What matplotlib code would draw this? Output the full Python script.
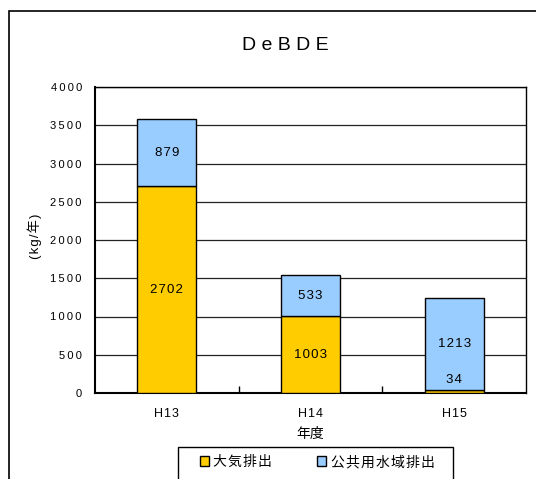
import matplotlib
matplotlib.use("Agg")
import matplotlib.pyplot as plt
from matplotlib.patches import Rectangle
import numpy as np

plt.rcParams['font.family'] = ['Liberation Sans', 'Noto Sans CJK JP', 'DejaVu Sans']

# emissions by fiscal year (kg/year)
years = ['H13', 'H14', 'H15']
air = [2702, 1003, 34]
water = [879, 533, 1213]
series_names = ['大気排出', '公共用水域排出']
colors = ['#FFCC00', '#99CCFF']


def spaced(s, sep='\u2009'):
    # widen the letter spacing a little
    return sep.join(str(s))


W, H = 536, 479
fig = plt.figure(figsize=(W / 100, H / 100), dpi=100)
ax = fig.add_axes([95 / W, 1 - 393 / H, 431 / W, 306 / H])

x = np.arange(len(years))
bw = 0.41
b1 = ax.bar(x, air, bw, color=colors[0], edgecolor='black', linewidth=1,
            label=spaced(series_names[0], '\u200a'), zorder=3)
b2 = ax.bar(x, water, bw, bottom=air, color=colors[1], edgecolor='black',
            linewidth=1, label=spaced(series_names[1], '\u200a'), zorder=3)

# value labels in the middle of each segment
for i in range(len(years)):
    for bottom, v in ((0, air[i]), (air[i], water[i])):
        lab = spaced(v, '\u200a')
        if v < 150:
            ax.annotate(lab, (x[i], bottom + v), xytext=(0, 7.5),
                        textcoords='offset points', ha='center', va='center',
                        fontsize=9.5, zorder=4)
        else:
            ax.text(x[i], bottom + v / 2, lab, ha='center', va='center',
                    fontsize=9.5, zorder=4)

ax.set_xlim(-0.5, 2.5)
ax.set_ylim(0, 4000)
yt = np.arange(0, 4001, 500)
ax.set_yticks(yt)
ax.set_yticklabels([spaced(v) for v in yt])
ax.yaxis.grid(True, color='#222222', linewidth=0.9, zorder=0)
ax.tick_params(axis='y', length=0, pad=9.5, labelsize=8)
ax.set_xticks(x)
ax.set_xticklabels([spaced(y, '\u200a') for y in years], fontsize=9)
ax.set_xticks([0.5, 1.5], minor=True)
ax.tick_params(axis='x', which='major', length=0, pad=11)
ax.tick_params(axis='x', which='minor', direction='in', length=5, width=1)
for s in ax.spines.values():
    s.set_linewidth(1)
ax.spines['bottom'].set_linewidth(1.5)
ax.spines['left'].set_linewidth(1.5)

ax.set_xlabel('年度', fontsize=10, labelpad=5)
fig.text(35 / W, 1 - 236 / H, spaced('(kg/年)', '\u200a'), rotation=90,
         ha='center', va='center', fontsize=9.5)
fig.text(285 / W, 1 - 46 / H, 'D e B D E', ha='center', va='center',
         fontsize=14)

leg = fig.legend(handles=[b1, b2], loc='center',
                 bbox_to_anchor=(317 / W, 1 - 462 / H), ncol=2,
                 fontsize=10, frameon=False,
                 handlelength=0.7, handleheight=0.7, handletextpad=0.3,
                 columnspacing=3.2, borderpad=0, borderaxespad=0)
for h in leg.legend_handles:
    h.set_edgecolor('black')

# legend frame and outer chart frame run past the bottom edge
fig.patches.append(Rectangle((178 / W, -0.1), 275 / W, 0.1 + 1 - 447 / H,
                             transform=fig.transFigure, fill=False,
                             edgecolor='black', linewidth=1))
fig.patches.append(Rectangle((9 / W, -0.2), 1.2, 1.2 - 11 / H,
                             transform=fig.transFigure, fill=False,
                             edgecolor='black', linewidth=1.2))

fig.savefig('out.png', dpi=100)
